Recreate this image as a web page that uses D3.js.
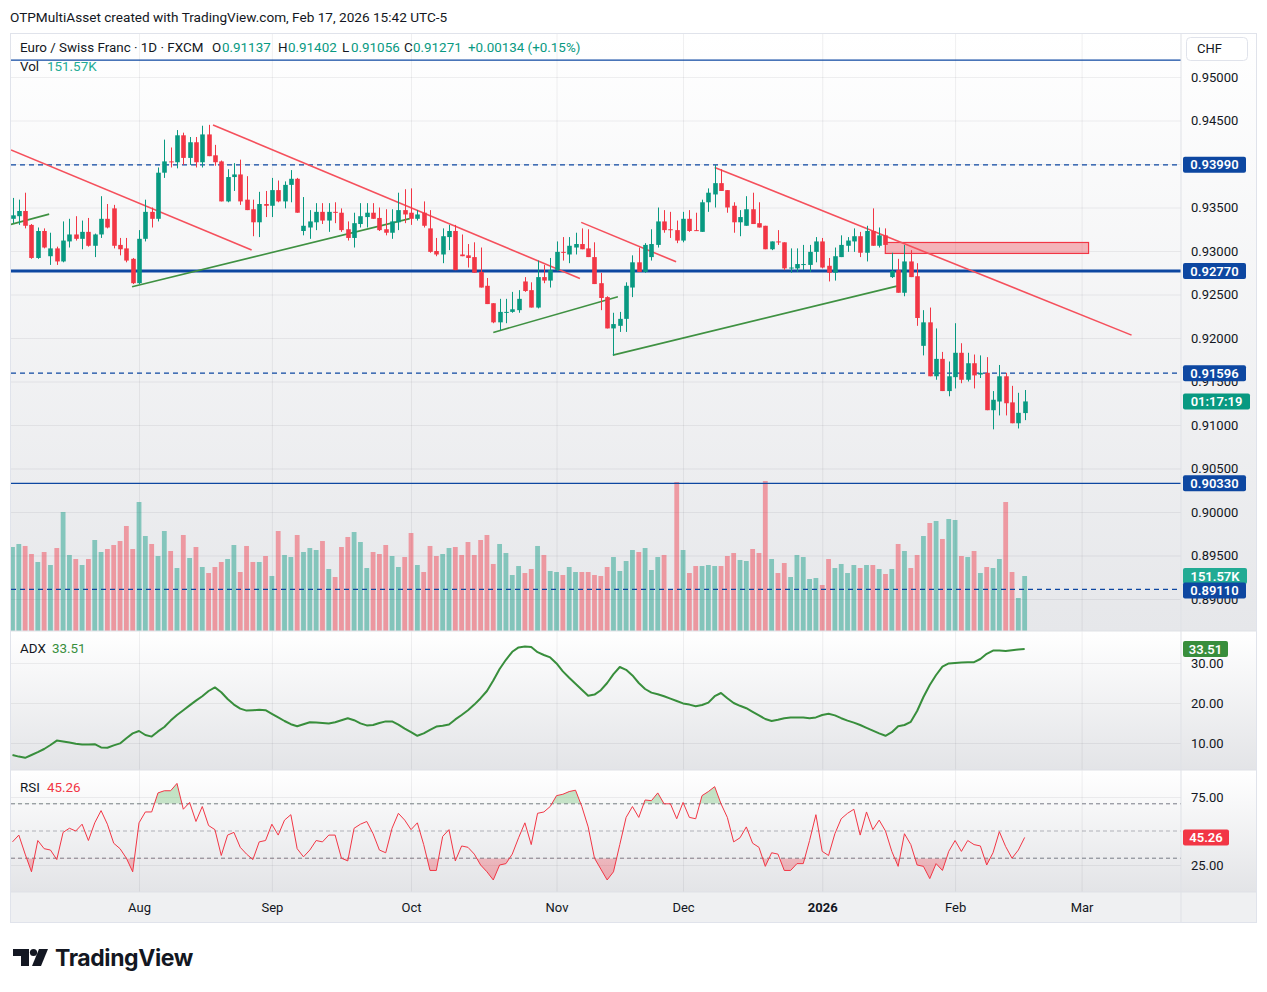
<!DOCTYPE html>
<html>
<head>
<meta charset="utf-8">
<script src="https://cdn.jsdelivr.net/npm/d3@7/dist/d3.min.js"></script>
<style>
  body { margin: 0; background: #ffffff; }
  svg { display: block; font-family: Roboto, "Noto Sans", sans-serif; }
</style>
</head>
<body>
<svg id="chart" width="1267" height="992"></svg>
<script>
// EURCHF daily, FXCM. One entry per trading day, Jul 4 2025 .. Feb 17 2026
const opens = [
  0.9337, 0.9340, 0.9346, 0.9330, 0.9292, 0.9323, 0.9294, 0.9303, 0.9288, 0.9311,
  0.9319, 0.9314, 0.9322, 0.9306, 0.9319, 0.9337, 0.9349, 0.9307, 0.9303, 0.9291,
  0.9263, 0.9314, 0.9345, 0.9337, 0.9390, 0.9403, 0.9402, 0.9433, 0.9407, 0.9425,
  0.9402, 0.9434, 0.9410, 0.9403, 0.9357, 0.9385, 0.9388, 0.9359, 0.9348, 0.9333,
  0.9354, 0.9352, 0.9370, 0.9357, 0.9376, 0.9383, 0.9323, 0.9327, 0.9333, 0.9345,
  0.9335, 0.9345, 0.9344, 0.9325, 0.9315, 0.9331, 0.9339, 0.9344, 0.9338, 0.9325,
  0.9321, 0.9333, 0.9347, 0.9344, 0.9337, 0.9344, 0.9326, 0.9300, 0.9296, 0.9316,
  0.9323, 0.9296, 0.9295, 0.9293, 0.9276, 0.9260, 0.9240, 0.9218, 0.9229, 0.9230,
  0.9232, 0.9265, 0.9255, 0.9235, 0.9270, 0.9266, 0.9278, 0.9299, 0.9296, 0.9304,
  0.9308, 0.9303, 0.9293, 0.9263, 0.9247, 0.9211, 0.9214, 0.9222, 0.9258, 0.9287,
  0.9276, 0.9293, 0.9307, 0.9334, 0.9325, 0.9324, 0.9312, 0.9337, 0.9324, 0.9322,
  0.9356, 0.9365, 0.9378, 0.9370, 0.9352, 0.9333, 0.9329, 0.9348, 0.9332, 0.9329,
  0.9302, 0.9311, 0.9310, 0.9280, 0.9280, 0.9284, 0.9284, 0.9299, 0.9311, 0.9283,
  0.9275, 0.9293, 0.9306, 0.9311, 0.9317, 0.9298, 0.9323, 0.9306, 0.9318, 0.9270,
  0.9278, 0.9252, 0.9288, 0.9271, 0.9191, 0.9218, 0.9156, 0.9176, 0.9139, 0.9155,
  0.9183, 0.9152, 0.9171, 0.9158, 0.9160, 0.9117, 0.9127, 0.9156, 0.9126, 0.9102,
  0.91137
];
const highs = [
  0.9361, 0.9359, 0.9367, 0.9331, 0.9327, 0.9326, 0.9321, 0.9305, 0.9334, 0.9337,
  0.9340, 0.9335, 0.9338, 0.9320, 0.9363, 0.9354, 0.9353, 0.9315, 0.9315, 0.9292,
  0.9324, 0.9359, 0.9350, 0.9396, 0.9428, 0.9419, 0.9439, 0.9436, 0.9431, 0.9431,
  0.9444, 0.9445, 0.9422, 0.9404, 0.9394, 0.9401, 0.9405, 0.9386, 0.9359, 0.9368,
  0.9369, 0.9384, 0.9381, 0.9380, 0.9393, 0.9384, 0.9362, 0.9347, 0.9355, 0.9355,
  0.9355, 0.9356, 0.9349, 0.9334, 0.9344, 0.9355, 0.9355, 0.9355, 0.9350, 0.9348,
  0.9348, 0.9367, 0.9371, 0.9372, 0.9347, 0.9357, 0.9347, 0.9315, 0.9326, 0.9330,
  0.9330, 0.9319, 0.9308, 0.9310, 0.9304, 0.9269, 0.9240, 0.9245, 0.9245, 0.9253,
  0.9255, 0.9270, 0.9264, 0.9289, 0.9284, 0.9292, 0.9311, 0.9316, 0.9316, 0.9321,
  0.9326, 0.9325, 0.9310, 0.9275, 0.9248, 0.9229, 0.9230, 0.9264, 0.9295, 0.9304,
  0.9309, 0.9325, 0.9350, 0.9347, 0.9345, 0.9335, 0.9345, 0.9347, 0.9344, 0.9359,
  0.9372, 0.9399, 0.9394, 0.9370, 0.9356, 0.9347, 0.9363, 0.9367, 0.9356, 0.9329,
  0.9311, 0.9324, 0.9310, 0.9303, 0.9303, 0.9307, 0.9307, 0.9316, 0.9315, 0.9292,
  0.9304, 0.9318, 0.9316, 0.9326, 0.9322, 0.9329, 0.9349, 0.9327, 0.9326, 0.9298,
  0.9291, 0.9307, 0.9301, 0.9286, 0.9232, 0.9235, 0.9211, 0.9184, 0.9173, 0.9217,
  0.9194, 0.9183, 0.9181, 0.9180, 0.9178, 0.9139, 0.9169, 0.9160, 0.9145, 0.9137,
  0.91402
];
const lows = [
  0.9332, 0.9330, 0.9326, 0.9291, 0.9291, 0.9303, 0.9284, 0.9284, 0.9287, 0.9304,
  0.9312, 0.9302, 0.9305, 0.9293, 0.9315, 0.9326, 0.9303, 0.9295, 0.9287, 0.9262,
  0.9262, 0.9311, 0.9327, 0.9334, 0.9384, 0.9396, 0.9395, 0.9399, 0.9399, 0.9396,
  0.9396, 0.9409, 0.9398, 0.9357, 0.9356, 0.9369, 0.9353, 0.9347, 0.9317, 0.9316,
  0.9339, 0.9339, 0.9356, 0.9349, 0.9356, 0.9344, 0.9318, 0.9314, 0.9324, 0.9331,
  0.9322, 0.9332, 0.9322, 0.9312, 0.9304, 0.9327, 0.9327, 0.9337, 0.9323, 0.9318,
  0.9314, 0.9324, 0.9332, 0.9330, 0.9335, 0.9327, 0.9298, 0.9294, 0.9286, 0.9301,
  0.9278, 0.9294, 0.9281, 0.9275, 0.9258, 0.9239, 0.9217, 0.9209, 0.9217, 0.9229,
  0.9229, 0.9253, 0.9235, 0.9234, 0.9263, 0.9258, 0.9277, 0.9289, 0.9286, 0.9296,
  0.9302, 0.9293, 0.9262, 0.9232, 0.9211, 0.9180, 0.9207, 0.9207, 0.9247, 0.9276,
  0.9275, 0.9289, 0.9304, 0.9321, 0.9315, 0.9309, 0.9310, 0.9322, 0.9323, 0.9322,
  0.9345, 0.9350, 0.9369, 0.9344, 0.9321, 0.9317, 0.9329, 0.9331, 0.9327, 0.9302,
  0.9301, 0.9307, 0.9278, 0.9275, 0.9276, 0.9278, 0.9276, 0.9287, 0.9280, 0.9265,
  0.9266, 0.9293, 0.9299, 0.9299, 0.9293, 0.9288, 0.9306, 0.9304, 0.9301, 0.9269,
  0.9252, 0.9248, 0.9270, 0.9214, 0.9180, 0.9156, 0.9152, 0.9139, 0.9133, 0.9142,
  0.9148, 0.9150, 0.9142, 0.9154, 0.9117, 0.9095, 0.9111, 0.9111, 0.9102, 0.9096,
  0.91056
];
const closes = [
  0.9341, 0.9346, 0.9329, 0.9292, 0.9323, 0.9304, 0.9303, 0.9288, 0.9312, 0.9319,
  0.9314, 0.9322, 0.9306, 0.9319, 0.9337, 0.9327, 0.9306, 0.9302, 0.9289, 0.9263,
  0.9314, 0.9345, 0.9337, 0.9390, 0.9403, 0.9402, 0.9433, 0.9407, 0.9425, 0.9402,
  0.9434, 0.9409, 0.9402, 0.9357, 0.9385, 0.9388, 0.9357, 0.9347, 0.9333, 0.9354,
  0.9352, 0.9370, 0.9357, 0.9376, 0.9383, 0.9344, 0.9329, 0.9334, 0.9345, 0.9335,
  0.9345, 0.9344, 0.9324, 0.9315, 0.9332, 0.9340, 0.9344, 0.9337, 0.9324, 0.9321,
  0.9334, 0.9347, 0.9342, 0.9337, 0.9342, 0.9329, 0.9299, 0.9296, 0.9317, 0.9323,
  0.9278, 0.9294, 0.9292, 0.9275, 0.9258, 0.9239, 0.9218, 0.9230, 0.9230, 0.9233,
  0.9245, 0.9254, 0.9235, 0.9270, 0.9266, 0.9278, 0.9299, 0.9298, 0.9306, 0.9308,
  0.9302, 0.9293, 0.9262, 0.9246, 0.9211, 0.9216, 0.9222, 0.9260, 0.9287, 0.9276,
  0.9307, 0.9308, 0.9334, 0.9324, 0.9324, 0.9312, 0.9337, 0.9323, 0.9323, 0.9356,
  0.9367, 0.9378, 0.9369, 0.9350, 0.9333, 0.9339, 0.9348, 0.9331, 0.9327, 0.9302,
  0.9311, 0.9310, 0.9280, 0.9281, 0.9285, 0.9285, 0.9299, 0.9311, 0.9281, 0.9275,
  0.9294, 0.9307, 0.9312, 0.9317, 0.9298, 0.9323, 0.9306, 0.9318, 0.9307, 0.9277,
  0.9252, 0.9288, 0.9270, 0.9223, 0.9218, 0.9156, 0.9176, 0.9139, 0.9156, 0.9183,
  0.9152, 0.9171, 0.9157, 0.9160, 0.9117, 0.9129, 0.9156, 0.9125, 0.9102, 0.9114,
  0.91271
];
// volume in thousands
const volumes = [
  231.5, 239.8, 234.3, 212.2, 190.2, 217.7, 181.9, 228.7, 328.0, 209.5,
  198.4, 181.9, 198.4, 250.8, 217.7, 226.0, 237.0, 248.0, 289.4, 226.0,
  355.5, 261.8, 239.8, 206.7, 275.6, 220.5, 173.6, 264.6, 201.2, 231.5,
  176.4, 159.8, 176.4, 190.2, 198.4, 237.0, 162.6, 234.3, 190.2, 190.2,
  206.7, 151.6, 275.6, 209.5, 203.9, 264.6, 217.7, 228.7, 223.2, 248.0,
  170.9, 148.8, 231.5, 259.1, 272.8, 245.3, 173.6, 217.7, 212.2, 237.0,
  206.7, 176.4, 203.9, 270.1, 181.9, 162.6, 234.3, 206.7, 212.2, 228.7,
  231.5, 209.5, 245.3, 209.5, 250.8, 264.6, 184.7, 239.8, 215.0, 154.3,
  179.1, 159.8, 170.9, 234.3, 209.5, 165.4, 162.6, 154.3, 176.4, 162.6,
  162.6, 162.6, 154.3, 151.6, 176.4, 203.9, 165.4, 192.9, 223.2, 217.7,
  228.7, 168.1, 203.9, 209.5, 113.0, 410.6, 223.2, 159.8, 179.1, 179.1,
  181.9, 179.1, 179.1, 206.7, 215.0, 195.7, 192.9, 226.0, 215.0, 413.4,
  198.4, 159.8, 187.4, 148.8, 209.5, 203.9, 143.3, 146.1, 126.8, 198.4,
  173.6, 184.7, 159.8, 181.9, 173.6, 181.9, 181.9, 170.9, 157.1, 170.9,
  239.8, 220.5, 173.6, 209.5, 261.8, 297.6, 303.2, 253.6, 308.7, 305.9,
  206.7, 203.9, 220.5, 159.8, 176.4, 173.6, 198.4, 355.5, 162.6, 90.9,
  151.57
];
const adx = [
  7.0, 6.6, 6.3, 7.0, 7.7, 8.5, 9.5, 10.6, 10.4, 10.1,
  9.8, 9.6, 9.6, 9.7, 8.9, 8.8, 9.4, 9.9, 11.2, 12.4,
  13.0, 12.0, 11.6, 12.9, 14.0, 15.6, 17.0, 18.2, 19.4, 20.6,
  21.7, 23.0, 23.9, 22.7, 21.0, 19.6, 18.6, 18.1, 18.2, 18.3,
  18.2, 17.3, 16.4, 15.5, 14.7, 14.2, 14.7, 15.2, 15.1, 15.0,
  14.9, 15.2, 15.7, 16.2, 15.7, 14.9, 14.4, 14.5, 15.0, 15.4,
  15.4, 14.6, 13.6, 12.7, 11.8, 12.4, 13.3, 14.1, 14.3, 14.6,
  15.9, 17.0, 18.2, 19.6, 21.2, 23.0, 25.6, 28.5, 30.8, 32.8,
  33.9, 34.1, 34.0, 32.7, 32.0, 31.4, 29.9, 27.9, 26.3, 24.8,
  23.3, 21.8, 22.1, 23.2, 25.0, 27.2, 29.0, 28.3, 26.9, 25.0,
  23.5, 22.6, 22.2, 21.7, 21.1, 20.5, 19.9, 19.6, 19.2, 19.5,
  20.1, 21.7, 22.5, 21.2, 20.0, 19.3, 18.7, 17.8, 16.9, 16.0,
  15.5, 15.8, 16.2, 16.4, 16.4, 16.4, 16.2, 16.4, 17.0, 17.3,
  16.9, 16.2, 15.6, 15.1, 14.5, 13.8, 13.1, 12.4, 11.8, 12.7,
  14.2, 14.5, 15.3, 18.0, 21.5, 24.5, 27.0, 29.1, 29.9, 30.0,
  30.1, 30.2, 30.2, 31.0, 32.3, 33.1, 33.1, 33.0, 33.2, 33.4,
  33.51
];
const rsi = [
  42, 47, 33, 20, 43, 37, 36, 29, 49, 52,
  50, 55, 43, 56, 65, 55, 41, 37, 30, 20,
  56, 64, 64, 78, 79.6, 79.6, 85, 66, 71, 57,
  68, 54, 51, 32, 47, 49, 38, 33, 29, 42,
  43, 55, 47, 58, 62, 37, 31, 36, 43, 42,
  47, 47, 30, 28, 52, 55, 57, 48, 36, 34,
  52, 63, 58, 51, 56, 40, 21, 21, 46, 51,
  28, 39, 38, 33, 25, 20, 14, 25, 26, 33,
  45, 56, 40, 63, 64, 68, 76, 77, 79, 80,
  68, 53, 30, 22, 14, 20, 40, 60, 68, 60,
  72.8, 72.3, 78, 70, 70, 59, 71, 60, 59, 76,
  79, 82.6, 70, 60, 42, 45, 53, 41, 38, 24,
  34, 33, 21, 21, 26, 26, 43, 62, 35, 32,
  48, 59, 63, 66, 47, 64, 51, 58, 50, 35,
  24, 48, 40, 25, 24, 15, 26, 21, 35, 43,
  35, 43, 40, 39, 25, 34, 49.5, 38.5, 30, 36,
  45.26
];

// axis labels
const monthTicks = ["Aug", "Sep", "Oct", "Nov", "Dec", "2026", "Feb", "Mar"];
const monthTickBars = [20, 41, 63, 86, 106, 128, 149, 169];
const priceTicks = [0.95, 0.945, 0.94, 0.935, 0.93, 0.925, 0.92, 0.915, 0.91, 0.905, 0.90, 0.895, 0.89];
const adxTicks = [30, 20, 10];
const rsiTicks = [75, 25];
const rsiBands = [70, 50, 30];

// drawings: [barIndex, price] anchor pairs
const dashedLevels = [0.9399, 0.91596, 0.8911];
const solidLevels = [0.95195, 0.9277, 0.9033];
const keyLevel = 0.9277;
const labelledLevels = [0.9399, 0.9277, 0.91596, 0.9033, 0.8911];
const downTrends = [
  [[-0.24, 0.94161], [37.8, 0.93011]],
  [[31.7, 0.94448], [89.7, 0.92685]],
  [[89.9, 0.93329], [104.9, 0.92876]],
  [[111.0, 0.93961], [176.9, 0.92033]]
];
const upTrends = [
  [[-0.24, 0.93306], [5.8, 0.93424]],
  [[18.9, 0.92588], [62.8, 0.93372]],
  [[76.0, 0.92064], [95.7, 0.92473]],
  [[94.9, 0.91803], [139.8, 0.92596]]
];
const zoneBars = [137.97, 170.1];
const zonePrices = [0.92972, 0.93098];
const countdown = "01:17:19";

const up = "#089981", down = "#f23645", levelBlue = "#0d47a1";
const paneLeft = 11, paneRight = 1181, axisRight = 1256;
const mainTop = 34, mainBottom = 631, adxTop = 632, adxBottom = 770;
const rsiTop = 771, rsiBottom = 892, timeBottom = 922;
const paneWidth = paneRight - paneLeft;

const svg = d3.select("#chart");
const defs = svg.append("defs");

function vGradient(id, top, bottom) {
  const g = defs.append("linearGradient").attr("id", id)
    .attr("x1", 0).attr("y1", 0).attr("x2", 0).attr("y2", 1);
  g.append("stop").attr("offset", "0%").attr("stop-color", top);
  g.append("stop").attr("offset", "100%").attr("stop-color", bottom);
}
vGradient("bgMain", "#ffffff", "#e6e7ea");
vGradient("bgSub", "#ffffff", "#e3e4e7");
vGradient("obFill", "rgba(76,175,80,0.35)", "rgba(76,175,80,0.05)");
vGradient("osFill", "rgba(242,54,69,0.05)", "rgba(242,54,69,0.35)");

function clip(id, x, y, w, h) {
  defs.append("clipPath").attr("id", id).append("rect")
    .attr("x", x).attr("y", y).attr("width", w).attr("height", h);
}
clip("clipMain", paneLeft, mainTop, paneWidth, mainBottom - mainTop);
clip("clipAdx", paneLeft, adxTop, paneWidth, adxBottom - adxTop);
clip("clipRsi", paneLeft, rsiTop, paneWidth, rsiBottom - rsiTop);

// Scales
const n = closes.length;
const x = d3.scaleLinear().domain([0, 160]).range([12.5, 1024.66]);
const y = d3.scaleLinear().domain([0.89, 0.95]).range([599, 77]);
const yVol = d3.scaleLinear().domain([0, 420]).range([mainBottom, mainBottom - 420 / 2.756]);
const yAdx = d3.scaleLinear().domain([10, 30]).range([743, 663]);
const yRsi = d3.scaleLinear().domain([25, 75]).range([865, 797]);

// Backgrounds
svg.append("rect").attr("x", paneLeft).attr("y", mainTop).attr("width", axisRight - paneLeft)
  .attr("height", mainBottom - mainTop).attr("fill", "url(#bgMain)");
svg.append("rect").attr("x", paneLeft).attr("y", adxTop).attr("width", axisRight - paneLeft)
  .attr("height", adxBottom - adxTop).attr("fill", "url(#bgSub)");
svg.append("rect").attr("x", paneLeft).attr("y", rsiTop).attr("width", axisRight - paneLeft)
  .attr("height", rsiBottom - rsiTop).attr("fill", "url(#bgSub)");
svg.append("rect").attr("x", paneLeft).attr("y", rsiBottom).attr("width", axisRight - paneLeft)
  .attr("height", timeBottom - rsiBottom).attr("fill", "#eff0f2");

// Grid lines
const gridColor = "rgba(42,46,57,0.07)";
svg.append("g")
  .attr("transform", `translate(0,${mainTop})`)
  .call(d3.axisBottom(x).tickValues(monthTickBars).tickSize(rsiBottom - mainTop).tickFormat(""))
  .call(g => g.select(".domain").remove())
  .call(g => g.selectAll("line").attr("stroke", gridColor));

function hGrid(scale, ticks) {
  svg.append("g")
    .attr("transform", `translate(${paneLeft},0)`)
    .call(d3.axisLeft(scale).tickValues(ticks).tickSize(-paneWidth).tickFormat(""))
    .call(g => g.select(".domain").remove())
    .call(g => g.selectAll("line").attr("stroke", gridColor));
}
hGrid(y, priceTicks);
hGrid(yAdx, adxTicks);
hGrid(yRsi, rsiTicks);

// Main pane
const main = svg.append("g").attr("clip-path", "url(#clipMain)");
const idx = d3.range(n);
const isUp = i => closes[i] >= opens[i];

main.append("g").selectAll("rect")
  .data(idx).join("rect")
  .attr("x", i => x(i) - 2.4)
  .attr("width", 4.8)
  .attr("y", i => yVol(volumes[i]))
  .attr("height", i => yVol(0) - yVol(volumes[i]))
  .attr("fill", i => isUp(i) ? "rgba(8,153,129,0.45)" : "rgba(242,54,69,0.45)");

function levelLine(p, dashed) {
  main.append("line")
    .attr("x1", paneLeft).attr("x2", paneRight)
    .attr("y1", y(p)).attr("y2", y(p))
    .attr("stroke", levelBlue)
    .attr("stroke-width", p === keyLevel ? 3 : 1.3)
    .attr("stroke-dasharray", dashed ? "5,4" : null);
}
solidLevels.forEach(p => levelLine(p, false));
dashedLevels.forEach(p => levelLine(p, true));

// Zone rectangle
main.append("rect")
  .attr("x", x(zoneBars[0])).attr("width", x(zoneBars[1]) - x(zoneBars[0]))
  .attr("y", y(zonePrices[1])).attr("height", y(zonePrices[0]) - y(zonePrices[1]))
  .attr("fill", "rgba(242,54,69,0.35)")
  .attr("stroke", "#f23645").attr("stroke-width", 1.2);

const seg = d3.line().x(d => x(d[0])).y(d => y(d[1]));
main.append("g").selectAll("path").data(downTrends).join("path")
  .attr("d", seg).attr("fill", "none").attr("stroke", "#f5505c").attr("stroke-width", 1.6);
main.append("g").selectAll("path").data(upTrends).join("path")
  .attr("d", seg).attr("fill", "none").attr("stroke", "#3f9142").attr("stroke-width", 1.6);

// Candles
const candles = main.append("g");
candles.selectAll("line").data(idx).join("line")
  .attr("x1", i => Math.round(x(i)) + 0.5).attr("x2", i => Math.round(x(i)) + 0.5)
  .attr("y1", i => y(highs[i])).attr("y2", i => y(lows[i]))
  .attr("stroke", i => isUp(i) ? up : down).attr("stroke-width", 1);
candles.selectAll("rect").data(idx).join("rect")
  .attr("x", i => Math.round(x(i)) + 0.5 - 2.3)
  .attr("width", 4.6)
  .attr("y", i => y(Math.max(opens[i], closes[i])))
  .attr("height", i => Math.max(1, Math.abs(y(opens[i]) - y(closes[i]))))
  .attr("fill", i => isUp(i) ? up : down);

// ADX pane
const adxG = svg.append("g").attr("clip-path", "url(#clipAdx)");
adxG.append("path").datum(adx)
  .attr("d", d3.line().x((d, i) => x(i)).y(d => yAdx(d)))
  .attr("fill", "none").attr("stroke", "#388e3c").attr("stroke-width", 2)
  .attr("stroke-linejoin", "round");

// RSI pane
const rsiG = svg.append("g").attr("clip-path", "url(#clipRsi)");
rsiBands.forEach(v => {
  rsiG.append("line")
    .attr("x1", paneLeft).attr("x2", paneRight)
    .attr("y1", yRsi(v)).attr("y2", yRsi(v))
    .attr("stroke", v === 50 ? "rgba(120,123,134,0.55)" : "#787b86")
    .attr("stroke-width", 1).attr("stroke-dasharray", "4,3");
});
clip("clipOB", paneLeft, rsiTop, paneWidth, yRsi(70) - rsiTop);
clip("clipOS", paneLeft, yRsi(30), paneWidth, rsiBottom - yRsi(30));
rsiG.append("path").datum(rsi)
  .attr("clip-path", "url(#clipOB)")
  .attr("d", d3.area().x((d, i) => x(i)).y0(yRsi(70)).y1(d => yRsi(d)))
  .attr("fill", "url(#obFill)");
rsiG.append("path").datum(rsi)
  .attr("clip-path", "url(#clipOS)")
  .attr("d", d3.area().x((d, i) => x(i)).y0(yRsi(30)).y1(d => yRsi(d)))
  .attr("fill", "url(#osFill)");
rsiG.append("path").datum(rsi)
  .attr("d", d3.line().x((d, i) => x(i)).y(d => yRsi(d)))
  .attr("fill", "none").attr("stroke", "#f23645").attr("stroke-width", 1)
  .attr("stroke-linejoin", "round");

// Frame and separators
const sep = "#dfe1e6";
[[paneLeft, mainBottom, axisRight, mainBottom], [paneLeft, adxBottom, axisRight, adxBottom],
 [paneLeft, rsiBottom, axisRight, rsiBottom], [paneRight, mainTop, paneRight, timeBottom]]
  .forEach(d => svg.append("line").attr("x1", d[0]).attr("y1", d[1]).attr("x2", d[2]).attr("y2", d[3])
    .attr("stroke", sep));
svg.append("rect").attr("x", paneLeft - 0.5).attr("y", mainTop - 0.5)
  .attr("width", axisRight - paneLeft + 1).attr("height", timeBottom - mainTop + 1)
  .attr("fill", "none").attr("stroke", "#e0e3eb");

// Right axes
const tickText = "#131722";
function rightAxis(scale, ticks, fmt) {
  svg.append("g")
    .attr("transform", `translate(${paneRight},0)`)
    .call(d3.axisRight(scale).tickValues(ticks).tickSize(0).tickPadding(10).tickFormat(fmt))
    .call(g => g.select(".domain").remove())
    .call(g => g.selectAll("text").attr("fill", tickText).style("font-size", "13px")
      .style("font-family", "Roboto, sans-serif"));
}
rightAxis(y, priceTicks, d3.format(".5f"));
rightAxis(yAdx, adxTicks, d3.format(".2f"));
rightAxis(yRsi, rsiTicks, d3.format(".2f"));

// Time axis
svg.append("g")
  .attr("transform", `translate(0,${rsiBottom})`)
  .call(d3.axisBottom(x).tickValues(monthTickBars).tickSize(0).tickPadding(11)
    .tickFormat((d, i) => monthTicks[i]))
  .call(g => g.select(".domain").remove())
  .call(g => g.selectAll("text").attr("fill", tickText).style("font-size", "13px")
    .style("font-family", "Roboto, sans-serif")
    .style("font-weight", (d, i) => monthTicks[i] === "2026" ? "700" : "400"));

// Axis value labels
function axisLabel(cy, text, fill, w) {
  const g = svg.append("g");
  g.append("rect").attr("x", paneRight + 2).attr("y", cy - 8).attr("width", w).attr("height", 16)
    .attr("rx", 2).attr("fill", fill);
  g.append("text").attr("x", paneRight + 2 + w / 2).attr("y", cy).attr("dy", "0.35em")
    .attr("text-anchor", "middle").attr("fill", "#ffffff")
    .style("font-size", "13px").style("font-weight", "600").text(text);
}
const mainLabels = labelledLevels.map(p => ({ y: y(p), text: d3.format(".5f")(p), fill: levelBlue, w: 63 }));
mainLabels.push({ y: y(closes[n - 1]), text: countdown, fill: up, w: 67 });
mainLabels.push({ y: yVol(volumes[n - 1]), text: d3.format(".2f")(volumes[n - 1]) + "K", fill: "#22ab94", w: 64 });
mainLabels.sort((a, b) => a.y - b.y);
for (let i = 1; i < mainLabels.length; i++) {
  if (mainLabels[i].y - mainLabels[i - 1].y < 14.5) mainLabels[i].y = mainLabels[i - 1].y + 14.5;
}
mainLabels.forEach(l => axisLabel(l.y, l.text, l.fill, l.w));
axisLabel(yAdx(adx[n - 1]), d3.format(".2f")(adx[n - 1]), "#388e3c", 45);
axisLabel(yRsi(rsi[n - 1]), d3.format(".2f")(rsi[n - 1]), "#f23645", 46);

// Currency button
svg.append("rect").attr("x", 1186.5).attr("y", 37.5).attr("width", 61).attr("height", 23)
  .attr("rx", 4).attr("fill", "#ffffff").attr("stroke", "#e0e3eb");
svg.append("text").attr("x", 1197).attr("y", 53).attr("fill", tickText)
  .style("font-size", "13px").text("CHF");

// Header and legends
svg.append("text").attr("x", 10).attr("y", 22).attr("fill", tickText)
  .style("font-size", "13.6px").text("OTPMultiAsset created with TradingView.com, Feb 17, 2026 15:42 UTC-5");

function legend(yPos, parts) {
  const t = svg.append("text").attr("y", yPos).style("font-size", "13.4px");
  parts.forEach(p => t.append("tspan").attr("x", p[0]).attr("fill", p[2]).text(p[1]));
}
const fmt5 = d3.format(".5f");
const chg = closes[n - 1] - opens[n - 1];
legend(52, [
  [20, "Euro / Swiss Franc · 1D · FXCM", tickText],
  [212, "O", tickText], [222, fmt5(opens[n - 1]), up],
  [278, "H", tickText], [288, fmt5(highs[n - 1]), up],
  [342, "L", tickText], [351, fmt5(lows[n - 1]), up],
  [404, "C", tickText], [413, fmt5(closes[n - 1]), up],
  [468, `+${fmt5(chg)} (+${d3.format(".2f")(chg / opens[n - 1] * 100)}%)`, up]
]);
legend(71, [[20, "Vol", tickText], [47, d3.format(".2f")(volumes[n - 1]) + "K", "#22ab94"]]);
legend(653, [[20, "ADX", tickText], [52, d3.format(".2f")(adx[n - 1]), "#388e3c"]]);
legend(792, [[20, "RSI", tickText], [47, d3.format(".2f")(rsi[n - 1]), "#f23645"]]);

// TradingView logo
const logo = svg.append("g").attr("fill", "#131722");
logo.append("path").attr("d", "M13,949 H29 V966 H21 V956 H13 Z");
logo.append("circle").attr("cx", 33.5).attr("cy", 952.5).attr("r", 3.6);
logo.append("path").attr("d", "M39,949 H48 L41,966 H32 Z");
svg.append("text").attr("x", 55).attr("y", 966).attr("fill", "#131722")
  .style("font-family", "Inter, Roboto, sans-serif").style("font-size", "23px")
  .style("font-weight", "700").style("letter-spacing", "-0.4px").text("TradingView");
</script>
</body>
</html>
